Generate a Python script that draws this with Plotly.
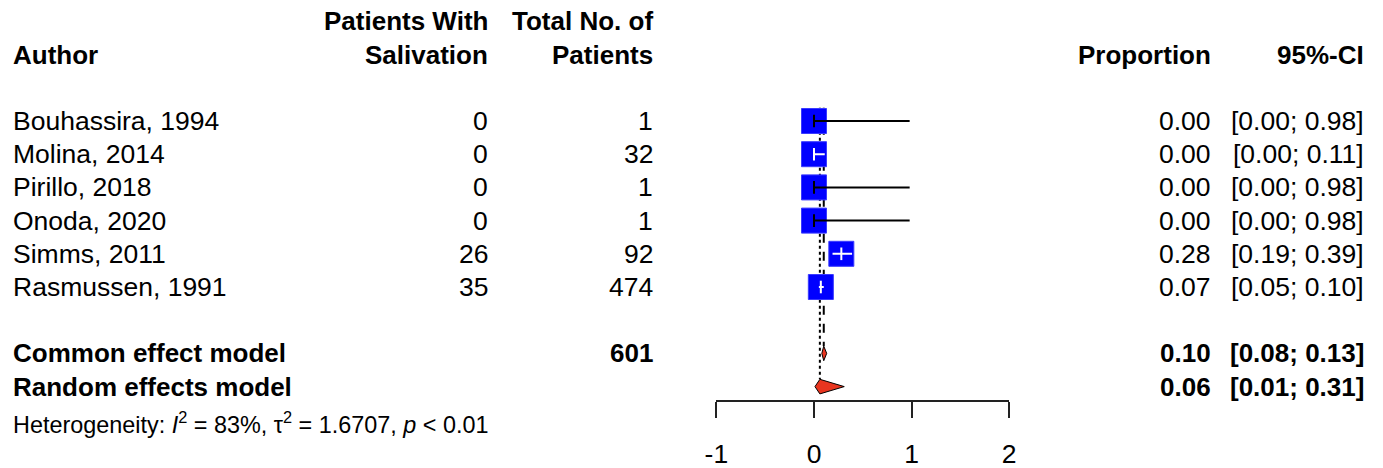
import plotly.graph_objects as go

# ---------------- data ----------------
authors = ["Bouhassira, 1994", "Molina, 2014", "Pirillo, 2018",
           "Onoda, 2020", "Simms, 2011", "Rasmussen, 1991"]
events = [0, 0, 0, 0, 26, 35]
totals = [1, 32, 1, 1, 92, 474]
prop = [0.00, 0.00, 0.00, 0.00, 0.28, 0.07]
ci_low = [0.00, 0.00, 0.00, 0.00, 0.19, 0.05]
ci_high = [0.98, 0.11, 0.98, 0.98, 0.39, 0.10]

pooled_labels = ["Common effect model", "Random effects model"]
pooled_est = [0.10, 0.06]
pooled_low = [0.08, 0.01]
pooled_high = [0.13, 0.31]
total_patients = 601

het_i2 = "83%"
het_tau2 = "1.6707"
het_p = "< 0.01"

tick_vals = [-1, 0, 1, 2]
tick_text = ["-1", "0", "1", "2"]

# ---------------- geometry ----------------
W, H = 1383, 468
FONT = "Liberation Sans, Arial, sans-serif"
FS = 26.5        # regular text
FSB = 26         # bold text
ROW0_PX = 121.0  # pixel centre of row 1
ROW_STEP = 33.2  # pixels per row
x0_px, px_per_unit = 814.0, 97.6
x_min, x_max = -1, 2
axis_px = 401

def px(xpix):
    return xpix / W

y_top = 1 - ROW0_PX / ROW_STEP
y_bot = 1 + (H - ROW0_PX) / ROW_STEP

n = len(authors)
study_rows = list(range(1, n + 1))
pooled_rows = [n + 2, n + 3]
het_row = n + 4.1
hdr1, hdr2 = -2, -1

SQ = 25  # square size in px
half_sq_units = (SQ / 2) / px_per_unit
dia_half = 0.22

fig = go.Figure()

# reference lines (common dashed, random dotted)
ref_dash = ["dash", "dot"]
for k in range(2):
    fig.add_trace(go.Scatter(
        x=[pooled_est[k], pooled_est[k]],
        y=[0.6, pooled_rows[k] - dia_half],
        mode="lines", line=dict(color="black", width=2, dash=ref_dash[k]),
        hoverinfo="skip", showlegend=False))

# squares
fig.add_trace(go.Scatter(
    x=prop, y=study_rows, mode="markers",
    marker=dict(symbol="square", size=SQ, color="#0000FF",
                line=dict(color="#3A3AFF", width=1)),
    cliponaxis=False, hoverinfo="skip", showlegend=False))

# CI lines: black if they stick out of the square, white otherwise
ci_colors = []
for e, lo, hi in zip(prop, ci_low, ci_high):
    inside = (hi - e) <= half_sq_units and (e - lo) <= half_sq_units
    ci_colors.append("white" if inside else "black")

for col in ["black", "white"]:
    xs, ys = [], []
    for r, lo, hi, c in zip(study_rows, ci_low, ci_high, ci_colors):
        if c == col:
            xs += [lo, hi, None]
            ys += [r, r, None]
    if xs:
        fig.add_trace(go.Scatter(
            x=xs, y=ys, mode="lines", line=dict(color=col, width=2),
            hoverinfo="skip", showlegend=False))

# point estimate ticks
fig.add_trace(go.Scatter(
    x=prop, y=study_rows, mode="markers",
    marker=dict(symbol="line-ns", size=9,
                line=dict(color=ci_colors, width=2)),
    cliponaxis=False, hoverinfo="skip", showlegend=False))

# diamonds
for k in range(2):
    r = pooled_rows[k]
    fig.add_trace(go.Scatter(
        x=[pooled_low[k], pooled_est[k], pooled_high[k], pooled_est[k], pooled_low[k]],
        y=[r, r - dia_half, r, r + dia_half, r],
        mode="lines", fill="toself", fillcolor="#E8351F",
        line=dict(color="black", width=1),
        hoverinfo="skip", showlegend=False))

# ---------------- text ----------------
ann = []

def txt(x_pix, row, s, anchor="left", size=None, bold=False):
    if size is None:
        size = FSB if bold else FS
    if bold:
        s = "<b>" + s + "</b>"
    ann.append(dict(x=px(x_pix), y=row, xref="paper", yref="y", text=s,
                    showarrow=False, xanchor=anchor, yanchor="middle",
                    font=dict(family=FONT, size=size, color="black")))

COL_AUTH = 11
COL_EV = 490
COL_TOT = 655
COL_PROP = 1213
COL_CI = 1366

# headers
txt(COL_AUTH, hdr2, "Author", bold=True)
txt(COL_EV, hdr1, "Patients With", "right", bold=True)
txt(COL_EV, hdr2, "Salivation", "right", bold=True)
txt(COL_TOT, hdr1, "Total No. of", "right", bold=True)
txt(COL_TOT, hdr2, "Patients", "right", bold=True)
txt(COL_PROP, hdr2, "Proportion", "right", bold=True)
txt(COL_CI, hdr2, "95%-CI", "right", bold=True)

for r, a, e, t, p, lo, hi in zip(study_rows, authors, events, totals, prop, ci_low, ci_high):
    txt(COL_AUTH, r, a)
    txt(COL_EV, r, str(e), "right")
    txt(COL_TOT, r, str(t), "right")
    txt(COL_PROP, r, f"{p:.2f}", "right")
    txt(COL_CI, r, f"[{lo:.2f}; {hi:.2f}]", "right")

for k in range(2):
    r = pooled_rows[k]
    txt(COL_AUTH, r, pooled_labels[k], bold=True)
    txt(COL_PROP, r, f"{pooled_est[k]:.2f}", "right", bold=True)
    txt(COL_CI, r, f"[{pooled_low[k]:.2f}; {pooled_high[k]:.2f}]", "right", bold=True)
txt(COL_TOT, pooled_rows[0], str(total_patients), "right", bold=True)

het = (f"Heterogeneity: <i>I</i><sup>2</sup> = {het_i2}, "
       f"\u03c4<sup>2</sup> = {het_tau2}, <i>p</i> {het_p.replace('<', '&lt;')}")
txt(COL_AUTH, het_row, het, size=23.4)

fig.update_layout(
    width=W, height=H,
    margin=dict(l=0, r=0, t=0, b=0, pad=0, autoexpand=False),
    paper_bgcolor="white", plot_bgcolor="rgba(0,0,0,0)",
    showlegend=False, annotations=ann,
    xaxis=dict(range=[x_min, x_max], domain=[px(x0_px + x_min * px_per_unit),
                                             px(x0_px + x_max * px_per_unit)],
               anchor="free", position=1 - axis_px / H, automargin=False,
               showgrid=False, zeroline=False, showline=True,
               linecolor="#222222", linewidth=2,
               ticks="outside", ticklen=16, tickwidth=2, tickcolor="#222222",
               tickvals=tick_vals, ticktext=tick_text, ticklabelstandoff=13,
               tickfont=dict(family=FONT, size=FS, color="black")),
    yaxis=dict(range=[y_bot, y_top], domain=[0, 1], visible=False,
               automargin=False, showgrid=False, zeroline=False),
)

fig.write_html("out.html")
